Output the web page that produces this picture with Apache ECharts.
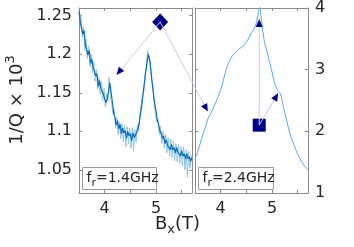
<!DOCTYPE html>
<html><head><meta charset="utf-8">
<script src="https://cdn.jsdelivr.net/npm/echarts@6/dist/echarts.min.js"></script>
<style>html,body{margin:0;padding:0;background:#fff}#c{width:354px;height:247px}</style>
</head><body><div id="c"></div>
<script>
// Left panel (f_r = 1.4 GHz): dark trace sampled from Bx = 3.5 step 0.025
const leftStart = 3.5, leftStep = 0.025;
const leftDark = [1.256,1.241,1.240,1.226,1.231,1.212,1.214,1.199,1.205,1.188,1.194,1.183,1.178,1.172,1.175,1.158,1.166,1.156,1.152,1.148,
1.150,1.137,1.142,1.152,1.163,1.150,1.138,1.124,1.118,1.108,1.114,1.103,1.109,1.097,1.104,1.098,1.101,1.091,1.100,1.094,
1.097,1.088,1.098,1.092,1.095,1.093,1.104,1.112,1.124,1.135,1.150,1.164,1.178,1.190,1.200,1.193,1.179,1.163,1.148,1.136,
1.126,1.114,1.109,1.101,1.097,1.091,1.094,1.084,1.089,1.082,1.084,1.076,1.083,1.076,1.079,1.072,1.079,1.073,1.075,1.068,
1.075,1.068,1.071,1.064,1.071,1.064,1.067,1.061,1.066];
// Left panel raw (lighter) trace, sampled at the mid points
const lightStart = 3.5125;
const leftLight = [1.240,1.252,1.222,1.236,1.206,1.220,1.194,1.210,1.184,1.200,1.176,1.190,1.165,1.180,1.155,1.170,1.148,1.164,1.140,1.156,
1.132,1.148,1.140,1.170,1.148,1.150,1.122,1.128,1.104,1.118,1.096,1.112,1.090,1.110,1.086,1.108,1.080,1.106,1.084,1.104,
1.078,1.105,1.074,1.102,1.086,1.108,1.100,1.124,1.122,1.148,1.152,1.176,1.180,1.205,1.194,1.190,1.166,1.160,1.136,1.134,
1.112,1.116,1.096,1.106,1.084,1.100,1.078,1.096,1.072,1.092,1.068,1.090,1.066,1.088,1.062,1.084,1.060,1.083,1.058,1.080,
1.055,1.080,1.050,1.076,1.040,1.074,1.052,1.070];
// Right panel (f_r = 2.4 GHz)
const rightBx = [3.50,3.55,3.60,3.65,3.70,3.75,3.80,3.85,3.90,3.95,4.00,4.05,4.10,4.15,4.20,4.25,4.30,4.35,4.40,4.45,4.50,4.55,4.60,4.65,4.70,4.73,4.76,4.78,4.80,4.85,4.90,4.95,5.00,5.05,5.10,5.13,5.16,5.20,5.25,5.30,5.35,5.40,5.45,5.50,5.55,5.60,5.65,5.70];
const rightQ = [1.56,1.66,1.80,1.94,2.06,2.20,2.28,2.37,2.46,2.56,2.68,2.82,2.98,3.10,3.19,3.25,3.29,3.33,3.36,3.39,3.45,3.52,3.60,3.66,3.78,3.92,4.02,3.90,3.76,3.46,3.30,3.13,2.96,2.78,2.68,2.64,2.62,2.48,2.30,2.12,1.96,1.84,1.73,1.63,1.55,1.48,1.42,1.38];
// Markers and arrow targets
const diamondPt = [5.08, 1.242];
const diamondTargetsLeft = [[4.23, 1.173]];
const diamondTargetsRight = [[3.75, 2.32]];
const squarePt = [4.75, 2.10];
const squareTargets = [[4.75, 3.82], [5.12, 2.62]];
const leftTicks = [1.05, 1.1, 1.15, 1.2, 1.25];
const rightTicks = [1, 2, 3, 4];
const labels = ['1.4GHz', '2.4GHz'];

const FONT = 'DejaVu Sans';
const TXT = '#262626';
const AX = '#8c8c8c';
const NAVY = '#00008b';

const darkData = leftDark.map((v, i) => [leftStart + i * leftStep, v]);
const lightData = leftLight.map((v, i) => [lightStart + i * leftStep, v]);
const rightData = rightBx.map((b, i) => [b, rightQ[i]]);

function xAx(grid, pos, showLabel) {
  return {type:'value', gridIndex:grid, position:pos, min:3.5, max:5.7, interval:0.5,
    axisLine:{show:true, onZero:false, lineStyle:{color:AX, width:1}},
    axisTick:{show:true, inside:true, length:3, lineStyle:{color:AX}},
    splitLine:{show:false},
    axisLabel:{show:showLabel, color:TXT, fontFamily:FONT, fontSize:16, margin:8,
      formatter: v => (Math.abs(v - Math.round(v)) < 1e-6 ? String(Math.round(v)) : '')}};
}
function yAx(grid, pos, min, max, ticks, showLabel) {
  return {type:'value', gridIndex:grid, position:pos, min:min, max:max,
    axisLine:{show:true, onZero:false, lineStyle:{color:AX, width:1}},
    axisTick:{show:true, inside:true, length:3, lineStyle:{color:AX}, customValues:ticks},
    splitLine:{show:false},
    axisLabel:{show:showLabel, color:TXT, fontFamily:FONT, fontSize:16, margin:7, customValues:ticks}};
}

const chart = echarts.init(document.getElementById('c'), null, {renderer:'canvas'});
chart.setOption({
  animation:false,
  grid:[{left:79, top:8, width:113, height:185}, {left:195, top:8, width:113, height:185}],
  xAxis:[xAx(0,'bottom',true), xAx(0,'top',false), xAx(1,'bottom',true), xAx(1,'top',false)],
  yAxis:[yAx(0,'left',1.02,1.26,leftTicks,true), yAx(0,'right',1.02,1.26,leftTicks,false),
         yAx(1,'right',1,4,rightTicks,true), yAx(1,'left',1,4,rightTicks,false)],
  series:[
    {type:'line', xAxisIndex:0, yAxisIndex:0, data:lightData, showSymbol:false, lineStyle:{color:'#8fc3e8', width:1}, z:2},
    {type:'line', xAxisIndex:0, yAxisIndex:0, data:darkData, showSymbol:false, lineStyle:{color:'#0a6fb8', width:1.2}, z:3},
    {type:'line', xAxisIndex:2, yAxisIndex:2, data:rightData, showSymbol:false, smooth:0.3, lineStyle:{color:'#56a9e3', width:1}, z:3},
    {type:'scatter', xAxisIndex:0, yAxisIndex:0, data:[diamondPt], symbol:'diamond', symbolSize:[16,17], itemStyle:{color:NAVY, opacity:1}, z:8, clip:false},
    {type:'scatter', xAxisIndex:2, yAxisIndex:2, data:[squarePt], symbol:'rect', symbolSize:13, itemStyle:{color:NAVY, opacity:1}, z:8}
  ]
});

function arrow(p0, p1) {
  const dx = p1[0]-p0[0], dy = p1[1]-p0[1];
  const L = Math.sqrt(dx*dx+dy*dy), ux = dx/L, uy = dy/L;
  const len = 8, hw = 3.5;
  const bx = p1[0]-ux*len, by = p1[1]-uy*len;
  return [
    {type:'line', z:20, shape:{x1:p0[0], y1:p0[1], x2:bx, y2:by}, style:{stroke:'#c9c9f0', lineWidth:1}},
    {type:'polygon', z:21, shape:{points:[[p1[0],p1[1]],[bx-uy*hw, by+ux*hw],[bx+uy*hw, by-ux*hw]]}, style:{fill:NAVY}}
  ];
}
const pd = chart.convertToPixel({xAxisIndex:0, yAxisIndex:0}, diamondPt);
const ps = chart.convertToPixel({xAxisIndex:2, yAxisIndex:2}, squarePt);
let els = [];
diamondTargetsLeft.forEach(t => { els = els.concat(arrow(pd, chart.convertToPixel({xAxisIndex:0, yAxisIndex:0}, t))); });
diamondTargetsRight.forEach(t => { els = els.concat(arrow(pd, chart.convertToPixel({xAxisIndex:2, yAxisIndex:2}, t))); });
squareTargets.forEach(t => { els = els.concat(arrow(ps, chart.convertToPixel({xAxisIndex:2, yAxisIndex:2}, t))); });

function box(x, y, w, h, lab) {
  return [
    {type:'rect', z:30, shape:{x:x, y:y, width:w, height:h}, style:{fill:'#fff', stroke:'#9a9a9a', lineWidth:1}},
    {type:'text', z:31, x:x+4, y:y+h/2, style:{text:'{a|f}{s|r}{a|=' + lab + '}', verticalAlign:'middle', fill:TXT,
      rich:{a:{fontFamily:FONT, fontSize:14, fill:TXT}, s:{fontFamily:FONT, fontSize:11, fill:TXT, padding:[9,0,0,0]}}}}
  ];
}
els = els.concat(box(82.5, 167.5, 74, 22, labels[0]), box(198.5, 167.5, 75, 22, labels[1]));
els.push({type:'text', z:30, x:155, y:236, style:{text:'{a|B}{s|x}{a|(T)}', verticalAlign:'bottom', fill:TXT,
  rich:{a:{fontFamily:FONT, fontSize:18, fill:TXT}, s:{fontFamily:FONT, fontSize:13, fill:TXT, padding:[10,0,0,0]}}}});
els.push({type:'text', z:30, x:17, y:100, rotation:Math.PI/2, style:{text:'{a|1/Q × 10}{s|3}', align:'center', verticalAlign:'middle', fill:TXT,
  rich:{a:{fontFamily:FONT, fontSize:18, fill:TXT}, s:{fontFamily:FONT, fontSize:13, fill:TXT, padding:[0,0,12,0]}}}});
chart.setOption({graphic:{elements:els}});
</script></body></html>
